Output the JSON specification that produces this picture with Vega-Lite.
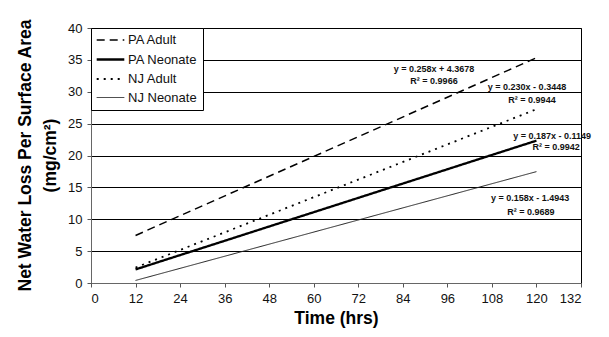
{
  "$schema": "https://vega.github.io/schema/vega-lite/v6.json",
  "width": 490,
  "height": 255,
  "autosize": {"type": "none"},
  "padding": {"left": 91, "top": 28, "right": 28, "bottom": 54},
  "background": "white",
  "config": {
    "font": "Liberation Sans",
    "view": {"stroke": "#000", "strokeWidth": 1},
    "axis": {
      "labelFont": "Liberation Sans",
      "labelFontSize": 13,
      "labelColor": "#111",
      "labelOverlap": false,
      "titleFont": "Liberation Sans",
      "titleFontSize": 17.5,
      "titleFontWeight": "bold",
      "titleColor": "#000",
      "titleLineHeight": 25,
      "tickColor": "#555",
      "tickSize": 4,
      "labelPadding": 5,
      "domainColor": "#666",
      "gridColor": "#000",
      "gridWidth": 1,
      "gridOpacity": 1
    },
    "legend": {
      "orient": "none",
      "legendX": 0,
      "legendY": 0,
      "title": null,
      "strokeColor": "#000",
      "fillColor": "#fff",
      "padding": 5,
      "rowPadding": 5,
      "symbolType": "M-2.3,0H2.3",
      "symbolSize": 144,
      "symbolOffset": 7,
      "symbolStrokeColor": "#000",
      "labelFont": "Liberation Sans",
      "labelFontSize": 13,
      "labelColor": "#111",
      "labelOffset": 10
    }
  },
  "datasets": {
    "lines": [
      {"series": "PA Adult", "time": 12, "loss": 7.46},
      {"series": "PA Adult", "time": 120, "loss": 35.33},
      {"series": "PA Neonate", "time": 12, "loss": 2.13},
      {"series": "PA Neonate", "time": 120, "loss": 22.33},
      {"series": "NJ Adult", "time": 12, "loss": 2.42},
      {"series": "NJ Adult", "time": 120, "loss": 27.26},
      {"series": "NJ Neonate", "time": 12, "loss": 0.40},
      {"series": "NJ Neonate", "time": 120, "loss": 17.47}
    ],
    "notes": [
      {"label": "y = 0.258x + 4.3678", "time": 92.4, "loss": 33.57},
      {"label": "R² = 0.9966", "time": 92.4, "loss": 31.69},
      {"label": "y = 0.230x - 0.3448", "time": 117.45, "loss": 30.75},
      {"label": "R² = 0.9944", "time": 118.8, "loss": 28.71},
      {"label": "y = 0.187x - 0.1149", "time": 124.2, "loss": 23.06},
      {"label": "R² = 0.9942", "time": 125.3, "loss": 21.33},
      {"label": "y = 0.158x - 1.4943", "time": 118.3, "loss": 13.33},
      {"label": "R² = 0.9689", "time": 118.5, "loss": 11.14}
    ]
  },
  "encoding": {
    "x": {
      "field": "time",
      "type": "quantitative",
      "scale": {"domain": [0, 132], "nice": false},
      "axis": {
        "values": [0, 12, 24, 36, 48, 60, 72, 84, 96, 108, 120, 132],
        "title": "Time (hrs)",
        "grid": false,
        "titleY": 35,
        "titleBaseline": "middle"
      }
    },
    "y": {
      "field": "loss",
      "type": "quantitative",
      "scale": {"domain": [0, 40], "nice": false},
      "axis": {
        "values": [0, 5, 10, 15, 20, 25, 30, 35, 40],
        "title": ["Net Water Loss Per Surface Area", "(mg/cm²)"],
        "grid": true,
        "titleBaseline": "middle",
        "titleX": -66,
        "titleY": 127,
        "titleAngle": -90
      }
    }
  },
  "layer": [
    {
      "data": {"name": "lines"},
      "mark": {"type": "line"},
      "encoding": {
        "color": {
          "field": "series",
          "type": "nominal",
          "scale": {
            "domain": ["PA Adult", "PA Neonate", "NJ Adult", "NJ Neonate"],
            "range": ["#000", "#000", "#000", "#222"]
          }
        },
        "strokeDash": {
          "field": "series",
          "type": "nominal",
          "scale": {
            "domain": ["PA Adult", "PA Neonate", "NJ Adult", "NJ Neonate"],
            "range": [[8, 5], [1, 0], [2, 5], [1, 0]]
          }
        },
        "strokeWidth": {
          "field": "series",
          "type": "nominal",
          "scale": {
            "type": "ordinal",
            "domain": ["PA Adult", "PA Neonate", "NJ Adult", "NJ Neonate"],
            "range": [1.5, 2.3, 1.8, 1]
          }
        }
      }
    },
    {
      "data": {"name": "notes"},
      "mark": {"type": "text", "fontSize": 9, "fontWeight": "bold", "align": "center", "baseline": "middle", "color": "#111"},
      "encoding": {
        "text": {"field": "label", "type": "nominal"}
      }
    }
  ]
}
